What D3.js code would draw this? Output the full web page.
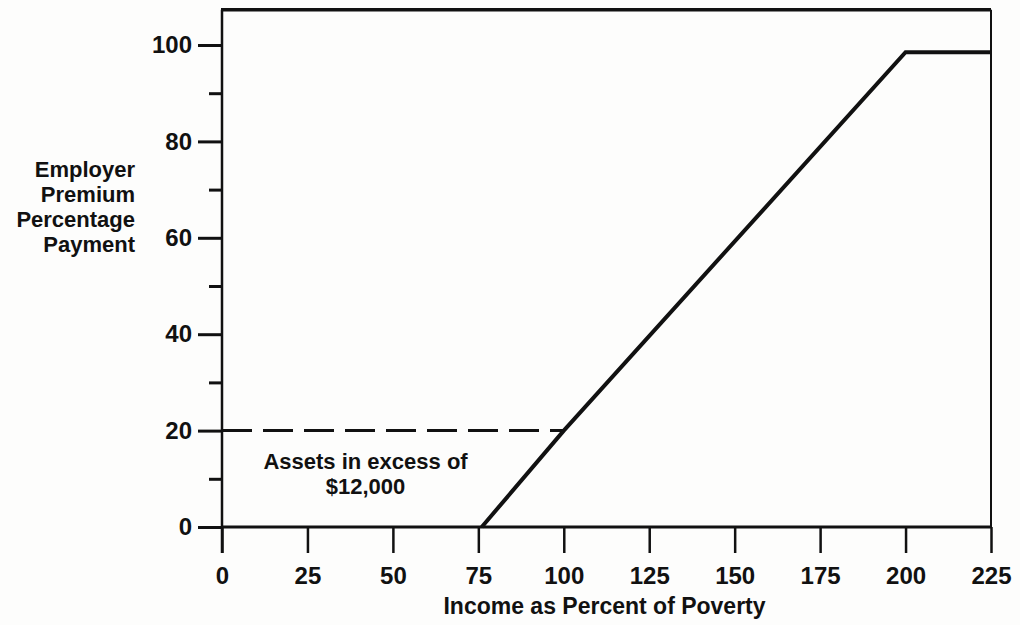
<!DOCTYPE html>
<html>
<head>
<meta charset="utf-8">
<script src="https://cdn.jsdelivr.net/npm/d3@7"></script>
<style>
  body { margin: 0; background: #fdfdfc; }
  text { font-family: "Liberation Sans", Arial, Helvetica, sans-serif; font-weight: bold; fill: #111; }
</style>
</head>
<body>
<div id="chart"></div>
<script>
// values
var incomePct   = [76, 100, 200, 225];
var employerPct = [0, 20, 98.5, 98.5];
var xTicks = [0, 25, 50, 75, 100, 125, 150, 175, 200, 225];
var yMajor = [0, 20, 40, 60, 80, 100];
var yMinor = [10, 30, 50, 70, 90];
var assetLimitX = [0, 100];   // dashed line: assets above $12,000
var assetLimitY = 20;
var yLabelLines = ["Employer", "Premium", "Percentage", "Payment"];
var noteLines = ["Assets in excess of", "$12,000"];

var W = 1020, H = 625;

var svg = d3.select("#chart")
  .append("svg")
    .attr("width", W)
    .attr("height", H);

var x = d3.scaleLinear().domain([0, 225]).range([222, 991]);
var y = d3.scaleLinear().domain([0, 100]).range([527, 45]);
var yTop = 107.3;   // top frame sits above 100

var ink = "#111";

// x axis ticks + labels
var xAxis = svg.append("g")
  .attr("transform", "translate(0," + y(0) + ")")
  .call(d3.axisBottom(x).tickValues(xTicks).tickSize(26).tickPadding(14));
xAxis.select(".domain").remove();
xAxis.selectAll("line").attr("stroke", ink).attr("stroke-width", 2.5);
xAxis.selectAll("text").style("font-size", "24px").attr("fill", ink);

// y axis major ticks + labels
var yAxis = svg.append("g")
  .attr("transform", "translate(" + x(0) + ",0)")
  .call(d3.axisLeft(y).tickValues(yMajor).tickSize(24).tickPadding(6));
yAxis.select(".domain").remove();
yAxis.selectAll("line").attr("stroke", ink).attr("stroke-width", 3);
yAxis.selectAll("text").style("font-size", "24px").attr("fill", ink);

// y axis minor ticks
var yMin = svg.append("g")
  .attr("transform", "translate(" + x(0) + ",0)")
  .call(d3.axisLeft(y).tickValues(yMinor).tickSize(13).tickFormat(""));
yMin.select(".domain").remove();
yMin.selectAll("line").attr("stroke", ink).attr("stroke-width", 3);

// frame: left axis, baseline, top, right
svg.append("line")
  .attr("x1", x(0)).attr("x2", x(0))
  .attr("y1", y(yTop)).attr("y2", y(0) + 26)
  .attr("stroke", ink).attr("stroke-width", 2.5);
svg.append("line")
  .attr("x1", x(0)).attr("x2", x(225))
  .attr("y1", y(0)).attr("y2", y(0))
  .attr("stroke", ink).attr("stroke-width", 3);
svg.append("line")
  .attr("x1", x(0) - 1).attr("x2", x(225))
  .attr("y1", y(yTop)).attr("y2", y(yTop))
  .attr("stroke", ink).attr("stroke-width", 3.5);
svg.append("line")
  .attr("x1", x(225)).attr("x2", x(225))
  .attr("y1", y(yTop)).attr("y2", y(0))
  .attr("stroke", ink).attr("stroke-width", 2);

// dashed asset limit
svg.append("line")
  .attr("x1", x(assetLimitX[0])).attr("x2", x(assetLimitX[1]))
  .attr("y1", y(assetLimitY)).attr("y2", y(assetLimitY))
  .attr("stroke", ink).attr("stroke-width", 3)
  .attr("stroke-dasharray", "30,11");

// main payment line
var pts = incomePct.map(function (d, i) { return [d, employerPct[i]]; });
svg.append("path")
  .datum(pts)
  .attr("fill", "none")
  .attr("stroke", ink)
  .attr("stroke-width", 4)
  .attr("stroke-linejoin", "miter")
  .attr("d", d3.line().x(function (d) { return x(d[0]); }).y(function (d) { return y(d[1]); }));

// annotation
svg.append("g").selectAll("text")
  .data(noteLines)
  .join("text")
    .attr("x", x(42))
    .attr("y", function (d, i) { return y(12) + i * 25; })
    .attr("text-anchor", "middle")
    .style("font-size", "22px")
    .text(function (d) { return d; });

// y axis title
svg.append("g").selectAll("text")
  .data(yLabelLines)
  .join("text")
    .attr("x", 135)
    .attr("y", function (d, i) { return 177 + i * 25; })
    .attr("text-anchor", "end")
    .style("font-size", "22px")
    .text(function (d) { return d; });

// x axis title
svg.append("text")
  .attr("x", x(112.5) - 2)
  .attr("y", 614)
  .attr("text-anchor", "middle")
  .style("font-size", "23px")
  .text("Income as Percent of Poverty");
</script>
</body>
</html>
